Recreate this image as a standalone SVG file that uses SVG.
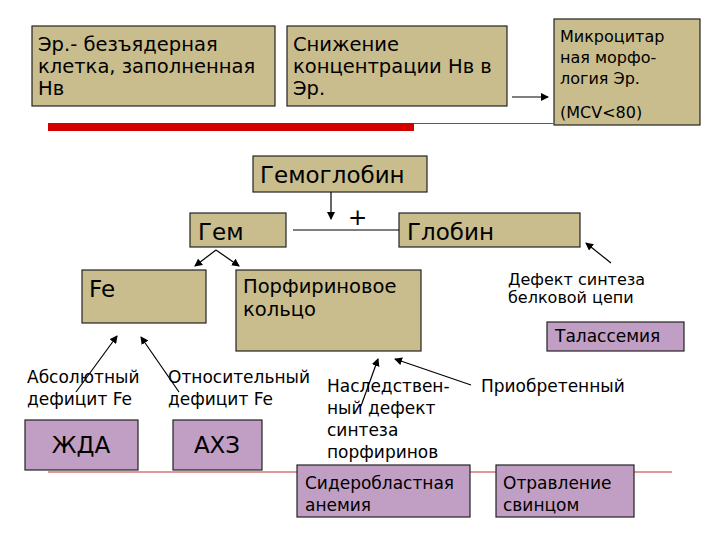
<svg xmlns="http://www.w3.org/2000/svg" width="720" height="540" viewBox="0 0 720 540">
<defs>
<style>
text{font-family:"DejaVu Sans",Verdana,sans-serif;fill:#000}
.t{fill:#c9bd8d;stroke:#222;stroke-width:1.2}
.p{fill:#c19ec3;stroke:#222;stroke-width:1.2}
.c{stroke:#000;stroke-width:1.2;fill:none;marker-end:url(#a)}
.f18{font-size:19.5px}.f16{font-size:17px}.f15{font-size:16px}.f21{font-size:23px}
</style>
<marker id="a" markerWidth="8" markerHeight="8" refX="7" refY="4" orient="auto" markerUnits="userSpaceOnUse"><path d="M0,0L8,4L0,8z" fill="#000"/></marker>
</defs>
<rect width="720" height="540" fill="#fff"/>
<g id="decor">
<rect x="48" y="123" width="366" height="8" fill="#d40000"/>
<line x1="414" y1="123.5" x2="553" y2="123.5" stroke="#c03030" stroke-width="1"/>
<line x1="48" y1="472" x2="672" y2="472" stroke="#c03030" stroke-width="1"/>
</g>
<g id="n1"><rect class="t" x="32" y="26" width="243" height="80"/><text class="f18" x="38" y="51">Эр.-  безъядерная</text><text class="f18" x="38" y="73">клетка, заполненная</text><text class="f18" x="38" y="95">Нв</text></g>
<g id="n2"><rect class="t" x="287" y="26" width="220" height="80"/><text class="f18" x="293" y="51">Снижение</text><text class="f18" x="293" y="73">концентрации Нв в</text><text class="f18" x="293" y="95">Эр.</text></g>
<g id="n3"><rect class="t" x="554" y="19" width="146" height="106"/><text class="f15" x="560" y="42">Микроцитар</text><text class="f15" x="560" y="63">ная морфо-</text><text class="f15" x="560" y="84">логия Эр.</text><text class="f15" x="560" y="118">(MCV&lt;80)</text></g>
<g id="n4"><rect class="t" x="253" y="156" width="174" height="36"/><text class="f21" x="260" y="183">Гемоглобин</text></g>
<g id="n5"><rect class="t" x="190" y="213" width="96" height="34"/><text class="f21" x="198" y="240">Гем</text></g>
<g id="n6"><rect class="t" x="399" y="213" width="181" height="34"/><text class="f21" x="407" y="240">Глобин</text></g>
<text class="f21" x="348" y="225">+</text>
<g id="n7"><rect class="t" x="82" y="270" width="124" height="53"/><text class="f21" x="89" y="297">Fe</text></g>
<g id="n8"><rect class="t" x="236" y="270" width="185" height="81"/><text class="f18" x="243" y="293">Порфириновое</text><text class="f18" x="243" y="316">кольцо</text></g>
<g id="n9"><text class="f15" x="508" y="285">Дефект синтеза</text><text class="f15" x="508" y="303">белковой цепи</text></g>
<g id="n10"><rect class="p" x="547" y="322" width="137" height="29"/><text class="f16" x="555" y="342">Талассемия</text></g>
<g id="n11"><text class="f16" x="27" y="383">Абсолютный</text><text class="f16" x="27" y="405">дефицит Fe</text></g>
<g id="n12"><text class="f16" x="168" y="383">Относительный</text><text class="f16" x="168" y="405">дефицит Fe</text></g>
<g id="n13"><text class="f16" x="327" y="392">Наследствен-</text><text class="f16" x="327" y="414">ный дефект</text><text class="f16" x="327" y="436">синтеза</text><text class="f16" x="327" y="458">порфиринов</text></g>
<g id="n14"><text class="f16" x="481" y="392">Приобретенный</text></g>
<g id="n15"><rect class="p" x="25" y="420" width="113" height="50"/><text class="f21" x="81" y="453" text-anchor="middle">ЖДА</text></g>
<g id="n16"><rect class="p" x="173" y="420" width="89" height="50"/><text class="f21" x="217" y="453" text-anchor="middle">АХЗ</text></g>
<g id="n17"><rect class="p" x="297" y="465" width="173" height="52"/><text class="f16" x="305" y="489">Сидеробластная</text><text class="f16" x="305" y="511">анемия</text></g>
<g id="n18"><rect class="p" x="496" y="465" width="138" height="52"/><text class="f16" x="503" y="489">Отравление</text><text class="f16" x="503" y="511">свинцом</text></g>
<g id="connectors">
<line class="c" x1="512" y1="97" x2="548" y2="97"/>
<line class="c" x1="331" y1="192" x2="331" y2="219"/>
<line x1="293" y1="230" x2="399" y2="230" stroke="#000" stroke-width="1.2"/>
<line class="c" x1="611" y1="263" x2="586" y2="243"/>
<line class="c" x1="216" y1="250" x2="195" y2="266"/>
<line class="c" x1="216" y1="250" x2="239" y2="266"/>
<line class="c" x1="76" y1="392" x2="117" y2="336"/>
<line class="c" x1="179" y1="392" x2="141" y2="337"/>
<line class="c" x1="361" y1="406" x2="378" y2="359"/>
<line class="c" x1="471" y1="385" x2="395" y2="359"/>
</g>
</svg>
